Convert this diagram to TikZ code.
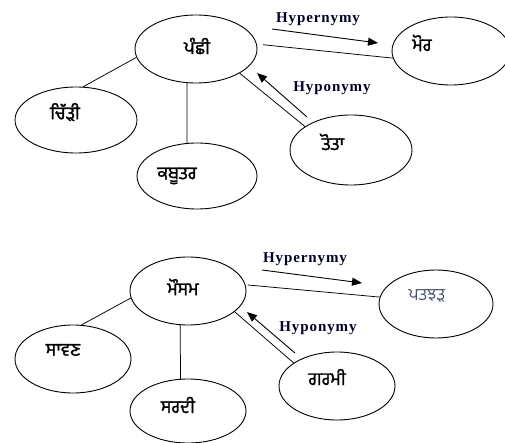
\documentclass[tikz,border=0pt]{standalone}
\usepackage{fontspec}
\usetikzlibrary{shapes.geometric,arrows.meta}
\newfontfamily\gur[Script=Gurmukhi, FakeBold=1.6]{Hind Jalandhar}
\newfontfamily\gurlight[Script=Gurmukhi]{Hind Jalandhar}
\newfontfamily\lblfont[LetterSpace=6]{Liberation Serif}
\definecolor{slate}{RGB}{70,82,112}
\begin{document}
\begin{tikzpicture}[x=1pt,y=-1pt,
  ell/.style={draw, ellipse, line width=0.9pt, inner sep=0pt},
  gtext/.style={font=\gur\fontsize{18}{20}\selectfont, inner sep=0pt},
  lbl/.style={font=\lblfont\bfseries\fontsize{15}{17}\selectfont, text=black!85!blue, inner sep=0pt},
  conn/.style={line width=0.75pt},
  rel/.style={line width=0.9pt, -{Triangle[length=10pt,width=8pt]}}]
\useasboundingbox (0,0) rectangle (505,443);
% ---- top graph
\node[ell, minimum width=122pt, minimum height=68pt] (P) at (196,49) {};
\node[ell, minimum width=118pt, minimum height=68pt] (M) at (451,51) {};
\node[ell, minimum width=122pt, minimum height=66pt] (C) at (76,120) {};
\node[ell, minimum width=120pt, minimum height=66pt] (K) at (197,176) {};
\node[ell, minimum width=122pt, minimum height=70pt] (T) at (351,150) {};
\node[gtext] (tP) at (197,46) {ਪੰਛੀ};
\node[gtext] (tM) at (422,43) {ਮੋਰ};
\node[gtext] (tC) at (65,112) {ਚਿੱੜੀ};
\node[gtext] (tK) at (177,176) {ਕਬੂਤਰ};
\node[gtext] (tT) at (333,142) {ਤੋਤਾ};
\draw[conn] ([xshift=6pt]P.4) -- (M.187);
\draw[conn] (P.-29) -- (T.153);
\draw[conn] (P.188) -- (C.78);
\draw[conn] (P.255) -- (K.107);
\node[lbl] (hyper1) at (318,19) {Hypernymy};
\node[lbl] (hypo1) at (332,88) {Hyponymy};
\coordinate (a1) at (272,29); \coordinate (b1) at (378,43);
\coordinate (a2) at (307,117); \coordinate (b2) at (257,73);
\draw[rel] (a1) -- (b1);
\draw[rel] (a2) -- (b2);
% ---- bottom graph
\node[ell, minimum width=116pt, minimum height=68pt] (S) at (188,291) {};
\node[ell, minimum width=114pt, minimum height=68pt] (PJ) at (436,304) {};
\node[ell, minimum width=116pt, minimum height=68pt] (SV) at (73,359) {};
\node[ell, minimum width=116pt, minimum height=64pt] (SR) at (188,411) {};
\node[ell, minimum width=116pt, minimum height=68pt] (G) at (337,386) {};
\node[gtext] (tS) at (183,287) {ਮੌਸਮ};
\node[gtext, font=\gurlight\fontsize{17}{19}\selectfont, text=slate] (tPJ) at (427,296) {ਪਤਝੜ};
\node[gtext] (tSV) at (63,350) {ਸਾਵਣ};
\node[gtext] (tSR) at (178,405) {ਸਰਦੀ};
\node[gtext] (tG) at (327,377) {ਗਰਮੀ};
\draw[conn] ([xshift=2pt]S.6) -- (PJ.173);
\draw[conn] (S.-24) -- (G.152);
\draw[conn] (S.187) -- (SV.76);
\draw[conn] (S.257) -- (SR.103);
\node[lbl] (hyper2) at (305,259) {Hypernymy};
\node[lbl] (hypo2) at (318,328) {Hyponymy};
\coordinate (a3) at (262,270); \coordinate (b3) at (362,283);
\coordinate (a4) at (295,353); \coordinate (b4) at (247,312);
\draw[rel] (a3) -- (b3);
\draw[rel] (a4) -- (b4);
\end{tikzpicture}
\end{document}
